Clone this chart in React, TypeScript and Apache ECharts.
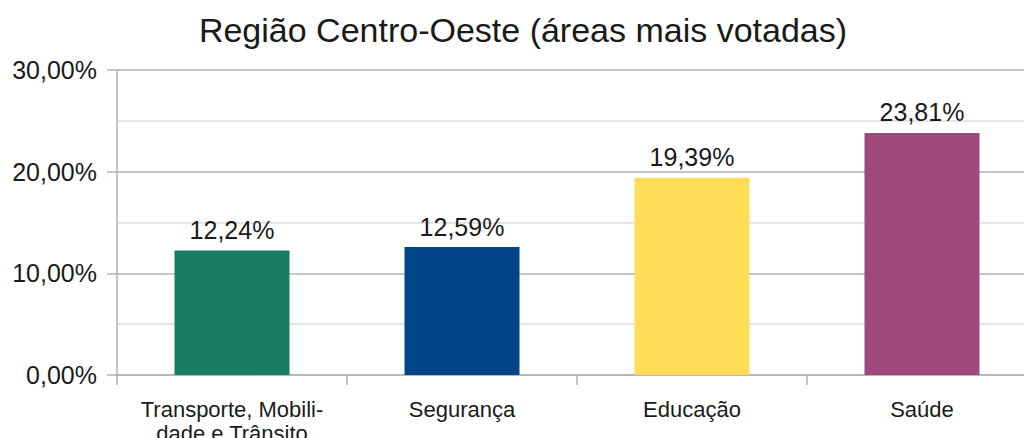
import React, { useEffect, useRef } from "react";
import * as echarts from "echarts";

const titleText = "Região Centro-Oeste (áreas mais votadas)";
const categories = ["Transporte, Mobili-\ndade e Trânsito", "Segurança", "Educação", "Saúde"];
const values = [12.24, 12.59, 19.39, 23.81];
const barColors = ["#1a7f62", "#004586", "#ffdd57", "#9e487c"];
const yMin = 0;
const yMax = 30;
const yInterval = 10;

const fmt = (v: number) => v.toFixed(2).replace(".", ",") + "%";

export default function App() {
  const ref = useRef<HTMLDivElement>(null);
  useEffect(() => {
    if (!ref.current) return;
    const chart = echarts.init(ref.current, null, { renderer: "svg" });
    const font = "'Liberation Sans', Arial, sans-serif";
    chart.setOption({
      animation: false,
      textStyle: { fontFamily: font },
      title: {
        text: titleText,
        left: 518,
        textAlign: "center",
        top: 8,
        textStyle: { fontFamily: font, fontSize: 34, fontWeight: "normal", color: "#1a1a1a" },
      },
      grid: { left: 117, width: 920, top: 70, height: 305, containLabel: false, outerBoundsMode: "none" },
      xAxis: {
        type: "category",
        data: categories,
        axisLine: { lineStyle: { color: "#b3b3b3", width: 1.5 } },
        axisTick: { show: true, length: 10, lineStyle: { color: "#b3b3b3", width: 1.5 } },
        axisLabel: {
          fontFamily: font,
          fontSize: 22,
          color: "#1a1a1a",
          margin: 22,
          lineHeight: 24,
          interval: 0,
        },
      },
      yAxis: {
        type: "value",
        min: yMin,
        max: yMax,
        interval: yInterval,
        axisLine: { show: true, lineStyle: { color: "#b3b3b3", width: 1.5 } },
        axisTick: { show: true, length: 10, lineStyle: { color: "#b3b3b3", width: 1.5 } },
        axisLabel: {
          fontFamily: font,
          fontSize: 25,
          color: "#1a1a1a",
          margin: 20,
          formatter: (v: number) => fmt(v),
        },
        splitLine: { show: true, lineStyle: { color: "#b3b3b3", width: 1.5 } },
        minorTick: { show: false, splitNumber: 2 },
        minorSplitLine: { show: true, lineStyle: { color: "#dddddd", width: 1.5 } },
      },
      series: [
        {
          type: "bar",
          barWidth: "50%",
          data: values.map((v, i) => ({ value: v, itemStyle: { color: barColors[i] } })),
          label: {
            show: true,
            position: "top",
            distance: 8,
            fontFamily: font,
            fontSize: 25,
            color: "#1a1a1a",
            formatter: (p: any) => fmt(p.value),
          },
        },
      ],
    });
    return () => chart.dispose();
  }, []);
  return <div ref={ref} style={{ width: 1024, height: 438, position: "absolute", left: 0, top: 0 }} />;
}
